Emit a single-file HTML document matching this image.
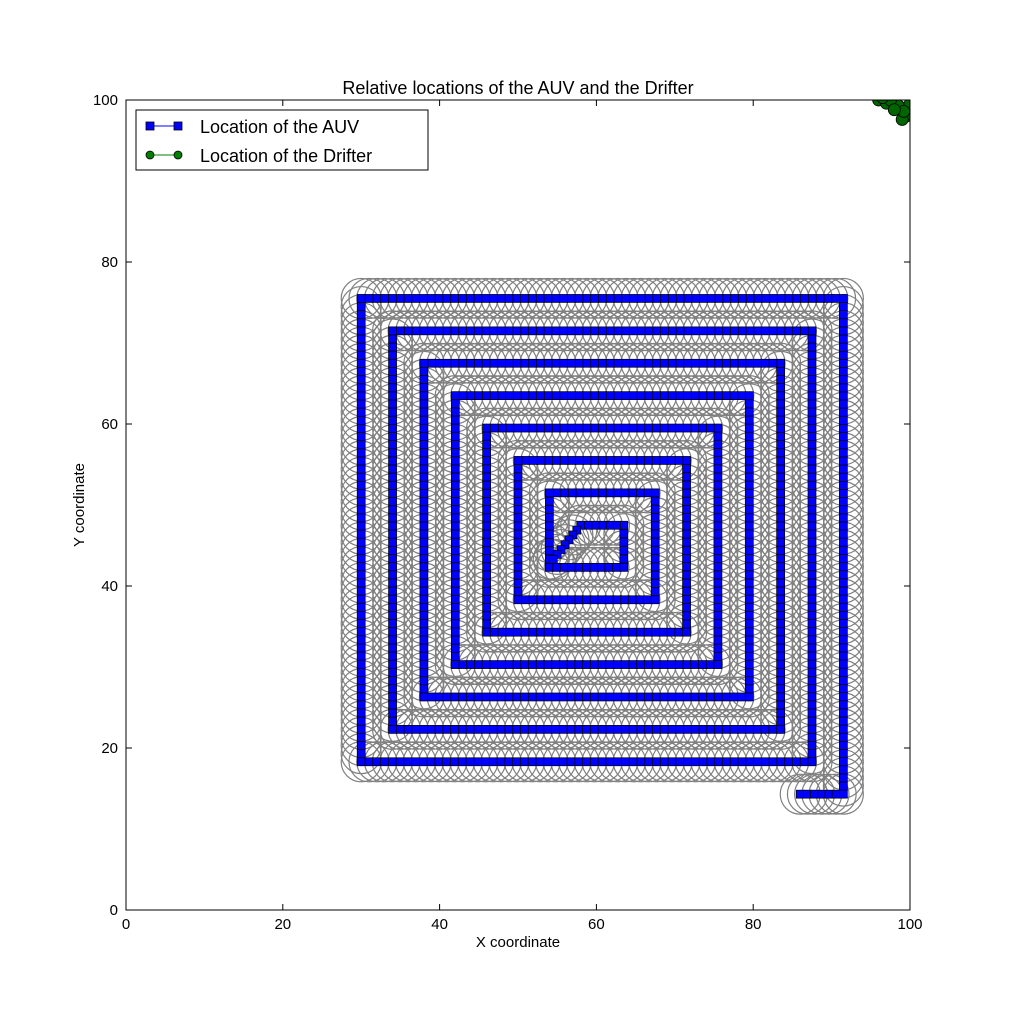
<!DOCTYPE html>
<html><head><meta charset="utf-8"><style>
body{margin:0;background:#fff;}
svg text{font-family:"Liberation Sans",sans-serif;}
</style></head><body>
<svg id="chart" width="1012" height="1012" xmlns="http://www.w3.org/2000/svg">
<rect width="1012" height="1012" fill="#fff"/>
<defs><clipPath id="plotclip"><rect x="126" y="100" width="784" height="810"/></clipPath></defs>
<g id="circles" clip-path="url(#plotclip)"></g>
<g id="auv" clip-path="url(#plotclip)"></g>
<g id="drifter" clip-path="url(#plotclip)"></g>
<rect x="126" y="100" width="784" height="810" fill="none" stroke="#000" stroke-width="1"/>
<g id="ticks"></g>
<text x="518" y="94" font-size="18" text-anchor="middle">Relative locations of the AUV and the Drifter</text>
<text x="518" y="947" font-size="15" text-anchor="middle">X coordinate</text>
<text x="84" y="505" font-size="15" text-anchor="middle" transform="rotate(-90 84 505)">Y coordinate</text>
<g>
<rect x="136" y="110" width="292" height="60" fill="#fff" stroke="#000"/>
<g>
<line x1="150" y1="126" x2="178" y2="126" stroke="#00f"/>
<rect x="146" y="122" width="8" height="8" fill="#00f" stroke="#000" stroke-width="0.8"/>
<rect x="174" y="122" width="8" height="8" fill="#00f" stroke="#000" stroke-width="0.8"/>
<text x="200" y="133" font-size="18">Location of the AUV</text></g>
<g>
<line x1="150" y1="155" x2="178" y2="155" stroke="#008000"/>
<circle cx="150" cy="155" r="4" fill="#008000" stroke="#000" stroke-width="0.8"/>
<circle cx="178" cy="155" r="4" fill="#008000" stroke="#000" stroke-width="0.8"/>
<text x="200" y="162" font-size="18">Location of the Drifter</text></g>
</g>
</svg>
<script>
const xTicks=[0,20,40,60,80,100];
const yTicks=[0,20,40,60,80,100];
const auvVertX=[86,91.5,91.5,30,30,87.5,87.5,34,34,83.5,83.5,38,38,79.5,79.5,42,42,75.5,75.5,46,46,71.5,71.5,50,50,67.5,67.5,54,54,63.5,63.5,58,54.5];
const auvVertY=[14.3,14.3,75.5,75.5,18.3,18.3,71.5,71.5,22.3,22.3,67.5,67.5,26.3,26.3,63.5,63.5,30.3,30.3,59.5,59.5,34.3,34.3,55.5,55.5,38.3,38.3,51.5,51.5,42.3,42.3,47.5,47.5,43.3];
const drifterX=[96,97,98,99,99.5,98.5,97.5,99,100,96.5,99.2,98];
const drifterY=[100,99.6,100,99,98,99.3,100,97.6,99.5,100.3,98.6,98.8];
const NS='http://www.w3.org/2000/svg';
const sx=v=>126+v*7.84, sy=v=>910-v*8.1;
function mk(t,a,p){const e=document.createElementNS(NS,t);for(const k in a)e.setAttribute(k,a[k]);p.appendChild(e);return e;}
const tk=document.getElementById('ticks');
xTicks.forEach(v=>{
 mk('line',{x1:sx(v),x2:sx(v),y1:910,y2:904,stroke:'#000'},tk);
 mk('line',{x1:sx(v),x2:sx(v),y1:100,y2:106,stroke:'#000'},tk);
 const t=mk('text',{x:sx(v),y:929,'font-size':15,'text-anchor':'middle'},tk);t.textContent=v;
 
 
});
yTicks.forEach(v=>{
 mk('line',{x1:126,x2:132,y1:sy(v),y2:sy(v),stroke:'#000'},tk);
 mk('line',{x1:910,x2:904,y1:sy(v),y2:sy(v),stroke:'#000'},tk);
 const t=mk('text',{x:118,y:sy(v)+5,'font-size':15,'text-anchor':'end'},tk);t.textContent=v;
 
 
});
const pts=[];
for(let i=0;i<auvVertX.length-1;i++){
 const x0=auvVertX[i],y0=auvVertY[i],x1=auvVertX[i+1],y1=auvVertY[i+1];
 const diag=Math.abs(x1-x0)>0.01&&Math.abs(y1-y0)>0.01;
 const d=diag?Math.hypot(x1-x0,y1-y0)/0.8:Math.max(Math.abs(x1-x0),Math.abs(y1-y0));
 const n=Math.max(1,Math.round(d));
 for(let k=0;k<n;k++)pts.push([x0+(x1-x0)*k/n,y0+(y1-y0)*k/n]);
}
pts.push([auvVertX[auvVertX.length-1],auvVertY[auvVertY.length-1]]);
const cg=document.getElementById('circles'),ag=document.getElementById('auv'),dg=document.getElementById('drifter');
pts.forEach(p=>{const c=mk('circle',{cx:sx(p[0]),cy:sy(p[1]),r:20,fill:'none',stroke:'#808080','stroke-width':1.2},cg);
 
 });
mk('polyline',{points:pts.map(p=>sx(p[0])+','+sy(p[1])).join(' '),fill:'none',stroke:'#00f','stroke-width':1},ag);
pts.forEach(p=>{const r=mk('rect',{x:sx(p[0])-4,y:sy(p[1])-4,width:8,height:8,fill:'#00f',stroke:'#000','stroke-width':0.7},ag);
 
 });
mk('polyline',{points:drifterX.map((x,i)=>sx(x)+','+sy(drifterY[i])).join(' '),fill:'none',stroke:'#00aa00'},dg);
drifterX.forEach((x,i)=>{const c=mk('circle',{cx:sx(x),cy:sy(drifterY[i]),r:6,fill:'#006400',stroke:'#000','stroke-width':0.8},dg);
 
 });
</script>
</body></html>
